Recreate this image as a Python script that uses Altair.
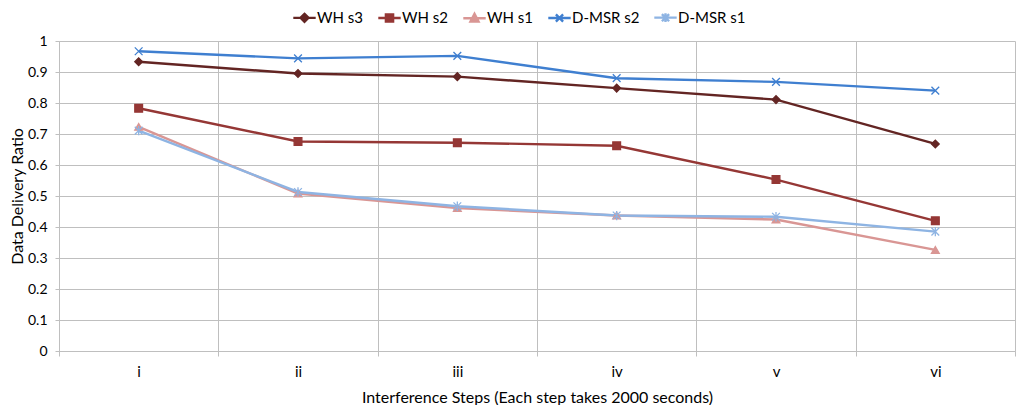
import altair as alt
import pandas as pd

steps = ["i", "ii", "iii", "iv", "v", "vi"]
series_names = ["WH s3", "WH s2", "WH s1", "D-MSR s2", "D-MSR s1"]
wh_s3 = [0.933, 0.895, 0.885, 0.848, 0.811, 0.668]
wh_s2 = [0.783, 0.676, 0.672, 0.662, 0.553, 0.420]
wh_s1 = [0.723, 0.508, 0.461, 0.437, 0.424, 0.326]
dmsr_s2 = [0.967, 0.944, 0.952, 0.880, 0.868, 0.840]
dmsr_s1 = [0.711, 0.513, 0.467, 0.437, 0.433, 0.385]
colors = ["#632523", "#953735", "#D99694", "#3F7FD0", "#8EB4E3"]

values = [wh_s3, wh_s2, wh_s1, dmsr_s2, dmsr_s1]
rows = []
for name, vals in zip(series_names, values):
    for s, v in zip(steps, vals):
        rows.append({"step": s, "series": name, "value": v})
df = pd.DataFrame(rows)

FONT = "Lato"

marker_paths = [
    "diamond",
    "square",
    "triangle-up",
    "M-1,-1L1,1M-1,1L1,-1",
    "M-1,-1L1,1M-1,1L1,-1M0,-1.2L0,1.2",
]
legend_paths = [
    "M-2.8,0H2.8M0,-1L1,0L0,1L-1,0Z",
    "M-2.8,0H2.8M-0.9,-0.9H0.9V0.9H-0.9Z",
    "M-2.8,0H2.8M0,-1.1L1,0.8H-1Z",
    "M-2.8,0H2.8M-0.9,-0.9L0.9,0.9M-0.9,0.9L0.9,-0.9",
    "M-2.8,0H2.8M-0.9,-0.9L0.9,0.9M-0.9,0.9L0.9,-0.9M0,-1.1L0,1.1",
]

def cscale():
    return alt.Scale(domain=series_names, range=colors)

x_enc = alt.X(
    "step:N",
    sort=steps,
    bandPosition=0.5,
    scale=alt.Scale(type="band", domain=steps, paddingInner=0, paddingOuter=0),
    axis=alt.Axis(
        title="Interference Steps (Each step takes 2000 seconds)",
        tickBand="extent",
        labelAngle=0,
        grid=True,
        gridColor="#BFBFBF",
        domainColor="#BFBFBF",
        tickColor="#BFBFBF",
        tickSize=5,
        labelPadding=8,
        labelFontSize=15,
        labelFont=FONT,
        labelColor="#000000",
        titleFont=FONT,
        titleFontSize=16,
        titleFontWeight="normal",
        titleColor="#000000",
        titlePadding=10,
    ),
)
y_enc = alt.Y(
    "value:Q",
    scale=alt.Scale(domain=[0, 1], nice=False),
    axis=alt.Axis(
        title="Data Delivery Ratio",
        values=[0, 0.1, 0.2, 0.3, 0.4, 0.5, 0.6, 0.7, 0.8, 0.9, 1.0],
        format="~g",
        grid=True,
        gridColor="#BFBFBF",
        domainColor="#BFBFBF",
        tickColor="#BFBFBF",
        tickSize=4,
        labelPadding=8,
        labelFontSize=14,
        labelFont=FONT,
        labelColor="#000000",
        titleFont=FONT,
        titleFontSize=16,
        titleFontWeight="normal",
        titleColor="#000000",
        titlePadding=2,
    ),
)

base = alt.Chart(df)

lines = base.mark_line(strokeWidth=2.4).encode(
    x=x_enc,
    y=y_enc,
    color=alt.Color("series:N", scale=cscale(), legend=None),
    detail="series:N",
)

points = base.mark_point(filled=True, opacity=1, strokeWidth=1.3, size=60).encode(
    x=x_enc,
    y=y_enc,
    fill=alt.Fill("series:N", scale=cscale(), legend=None),
    stroke=alt.Stroke("series:N", scale=cscale(), legend=None),
    shape=alt.Shape("series:N", scale=alt.Scale(domain=series_names, range=marker_paths), legend=None),
)

legend_layer = base.transform_filter("false").mark_point(filled=True, opacity=1, strokeWidth=2.4).encode(
    x=x_enc,
    y=y_enc,
    fill=alt.Fill("series:N", scale=cscale(), title=None),
    stroke=alt.Stroke("series:N", scale=cscale(), title=None),
    shape=alt.Shape("series:N", scale=alt.Scale(domain=series_names, range=legend_paths), title=None),
)

chart = (
    alt.layer(lines, points, legend_layer)
    .resolve_scale(fill="independent", stroke="independent", shape="independent", color="independent")
    .properties(
        width=956,
        height=310,
        autosize=alt.AutoSizeParams(type="none"),
        padding={"left": 51, "top": 33, "right": 1, "bottom": 54},
    )
    .configure_view(stroke=None)
    .configure_legend(
        orient="none",
        legendX=238,
        legendY=-31,
        direction="horizontal",
        symbolSize=64,
        symbolStrokeWidth=2.4,
        labelOffset=5,
        columnPadding=9,
        labelFont=FONT,
        labelFontSize=15,
        labelColor="#000000",
        symbolOpacity=1,
    )
)

chart.save("out.html", embed_options={"renderer": "svg", "actions": False})
